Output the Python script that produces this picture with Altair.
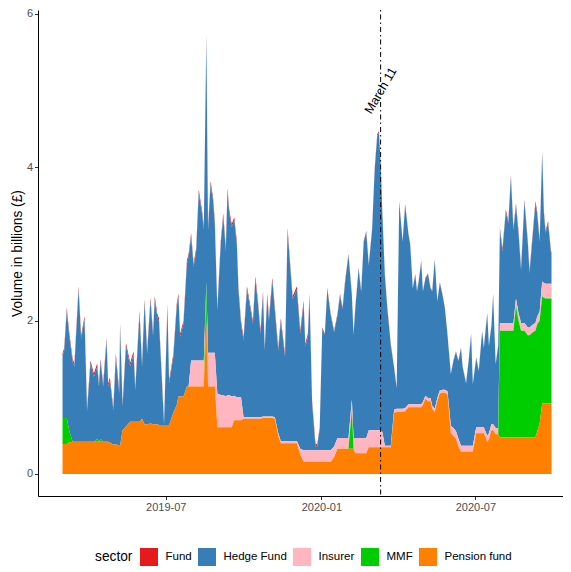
import altair as alt
import pandas as pd

FONT = "Liberation Sans"

# ---- data (day offsets from 2019-03-01) ----
start_date = "2019-03-01"
day = [0, 2, 5, 8, 12, 14, 19, 22, 26, 29,
       33, 37, 41, 43, 45, 48, 52, 54, 56, 60,
       63, 67, 68, 71, 75, 80, 84, 86, 91, 94,
       97, 100, 104, 107, 109, 112, 114, 120, 124, 126,
       131, 135, 137, 139, 143, 147, 149, 152, 155, 158,
       161, 165, 167, 170, 172, 175, 178, 180, 183, 187,
       190, 193, 195, 197, 200, 203, 206, 208, 211, 214,
       218, 221, 225, 228, 231, 234, 237, 239, 242, 244,
       248, 251, 255, 258, 263, 266, 270, 272, 277, 281,
       285, 287, 290, 292, 295, 299, 301, 304, 307, 310,
       313, 317, 321, 325, 328, 331, 334, 338, 342, 344,
       346, 350, 353, 356, 359, 362, 366, 369, 372, 374,
       376, 378, 381, 384, 388, 392, 395, 398, 402, 405,
       409, 411, 414, 417, 419, 421, 424, 426, 429, 432,
       435, 437, 440, 443, 446, 449, 452, 455, 457, 459,
       462, 465, 468, 471, 473, 477, 480, 483, 485, 489,
       492, 496, 498, 502, 504, 507, 509, 512, 515, 517,
       520, 524, 527, 530, 533, 536, 539, 542, 546, 550,
       552, 556, 559, 561, 564, 567, 569, 571, 574, 577,
       578]

# total stacked volume (top of the areas)
total = [1.57, 1.65, 2.17, 1.84, 1.50, 1.44, 2.45, 1.80, 2.06, 0.86,
         1.48, 1.31, 1.44, 1.18, 1.50, 1.18, 1.77, 1.18, 1.26, 0.87,
         1.57, 1.09, 1.96, 0.92, 1.71, 1.45, 1.60, 1.13, 2.13, 1.44,
         2.28, 1.61, 2.30, 1.84, 2.32, 2.09, 2.03, 0.66, 2.22, 1.22,
         1.57, 2.22, 2.35, 1.83, 2.00, 2.78, 2.87, 3.14, 2.74, 2.95,
         3.71, 3.43, 3.23, 5.73, 3.22, 3.82, 3.60, 3.30, 2.17, 3.04,
         3.40, 2.95, 3.73, 3.45, 3.26, 3.35, 3.04, 2.43, 2.00, 1.78,
         2.45, 2.26, 2.00, 2.58, 2.26, 1.87, 2.39, 1.65, 2.35, 2.04,
         2.56, 2.17, 1.65, 2.03, 1.57, 3.21, 2.61, 2.32, 2.45, 1.87,
         2.26, 1.70, 1.83, 2.35, 0.96, 0.40, 0.38, 0.61, 1.91, 1.83,
         2.43, 2.09, 1.87, 2.09, 2.35, 2.17, 2.52, 2.87, 2.35, 1.83,
         2.17, 2.69, 2.39, 3.04, 3.17, 2.74, 3.21, 3.99, 4.43, 4.47,
         4.08, 3.43, 2.61, 2.17, 1.70, 1.39, 1.13, 3.56, 3.04, 3.52,
         3.13, 3.00, 2.43, 2.61, 2.39, 2.52, 2.78, 2.39, 2.56, 2.62,
         2.43, 2.39, 2.80, 2.26, 2.50, 2.35, 2.17, 1.83, 1.57, 1.31,
         1.48, 1.60, 1.48, 1.65, 1.40, 1.19, 1.48, 1.83, 1.18, 1.52,
         1.35, 1.87, 1.65, 2.10, 1.68, 1.94, 2.35, 1.44, 1.68, 3.21,
         2.94, 3.45, 3.30, 3.90, 3.21, 3.53, 3.17, 2.69, 3.58, 3.04,
         2.65, 3.17, 3.56, 3.43, 3.06, 4.21, 3.43, 3.17, 3.30, 2.95,
         2.88]

pension = [0.39, 0.39, 0.39, 0.41, 0.42, 0.42, 0.42, 0.42, 0.42, 0.42,
           0.42, 0.42, 0.42, 0.42, 0.42, 0.42, 0.42, 0.42, 0.41, 0.38,
           0.39, 0.37, 0.37, 0.57, 0.62, 0.68, 0.68, 0.68, 0.68, 0.72,
           0.65, 0.65, 0.66, 0.65, 0.65, 0.65, 0.64, 0.64, 0.64, 0.64,
           0.80, 0.90, 1.01, 1.01, 1.01, 1.14, 1.14, 1.14, 1.14, 1.14,
           1.14, 1.14, 1.14, 2.00, 1.14, 1.14, 1.14, 1.14, 0.61, 0.61,
           0.61, 0.61, 0.61, 0.61, 0.61, 0.70, 0.70, 0.70, 0.70, 0.72,
           0.72, 0.72, 0.72, 0.72, 0.72, 0.72, 0.73, 0.73, 0.73, 0.73,
           0.73, 0.72, 0.50, 0.40, 0.40, 0.40, 0.40, 0.40, 0.40, 0.25,
           0.16, 0.16, 0.16, 0.16, 0.16, 0.16, 0.16, 0.16, 0.16, 0.16,
           0.16, 0.16, 0.22, 0.33, 0.33, 0.33, 0.33, 0.33, 0.33, 0.33,
           0.27, 0.27, 0.27, 0.27, 0.27, 0.35, 0.35, 0.35, 0.35, 0.35,
           0.35, 0.35, 0.35, 0.35, 0.35, 0.80, 0.81, 0.81, 0.81, 0.82,
           0.87, 0.87, 0.87, 0.87, 0.87, 0.87, 0.87, 0.90, 0.98, 0.95,
           0.95, 0.85, 0.81, 0.95, 1.05, 1.06, 1.06, 1.04, 0.80, 0.53,
           0.50, 0.46, 0.36, 0.29, 0.29, 0.29, 0.29, 0.29, 0.29, 0.53,
           0.53, 0.53, 0.53, 0.42, 0.45, 0.57, 0.57, 0.52, 0.52, 0.48,
           0.48, 0.48, 0.48, 0.48, 0.48, 0.48, 0.48, 0.48, 0.48, 0.48,
           0.48, 0.48, 0.48, 0.55, 0.66, 0.92, 0.92, 0.92, 0.92, 0.92,
           0.92]

mmf = [0.34, 0.34, 0.34, 0.15, 0, 0, 0, 0, 0, 0,
       0, 0, 0.04, 0, 0.04, 0, 0, 0, 0, 0,
       0, 0, 0, 0, 0, 0, 0, 0, 0, 0,
       0, 0, 0, 0, 0, 0, 0, 0, 0, 0,
       0, 0, 0, 0, 0, 0, 0, 0, 0, 0,
       0, 0, 0, 0.50, 0, 0, 0, 0, 0, 0,
       0, 0, 0, 0, 0, 0, 0, 0, 0, 0,
       0, 0, 0, 0, 0, 0, 0, 0, 0, 0,
       0, 0, 0, 0, 0, 0, 0, 0, 0, 0,
       0, 0, 0, 0, 0, 0, 0, 0, 0, 0,
       0, 0, 0, 0, 0, 0, 0, 0, 0.50, 0,
       0, 0, 0, 0, 0, 0, 0, 0, 0, 0,
       0, 0, 0, 0, 0, 0, 0, 0, 0, 0,
       0, 0, 0, 0, 0, 0, 0, 0, 0, 0,
       0, 0, 0, 0, 0, 0, 0, 0, 0, 0,
       0, 0, 0, 0, 0, 0, 0, 0, 0, 0,
       0, 0, 0, 0, 0, 0, 0, 0, 0, 1.39,
       1.39, 1.39, 1.39, 1.39, 1.39, 1.71, 1.52, 1.39, 1.39, 1.33,
       1.33, 1.37, 1.39, 1.40, 1.34, 1.40, 1.38, 1.37, 1.37, 1.37,
       1.37]

insurer = [0, 0, 0, 0, 0, 0, 0, 0, 0, 0,
           0, 0, 0, 0, 0, 0, 0, 0, 0, 0,
           0, 0, 0, 0, 0, 0, 0, 0, 0, 0,
           0, 0, 0, 0, 0, 0, 0, 0, 0, 0,
           0, 0, 0, 0, 0, 0, 0, 0.34, 0.34, 0.34,
           0.34, 0.34, 0.34, 0, 0.44, 0.44, 0.44, 0.44, 0.44, 0.42,
           0.42, 0.40, 0.42, 0.42, 0.40, 0.32, 0.30, 0.30, 0.30, 0.02,
           0.02, 0.02, 0.02, 0.02, 0.02, 0.02, 0.02, 0.02, 0.02, 0.02,
           0.02, 0.02, 0.03, 0.03, 0.03, 0.03, 0.03, 0.03, 0.03, 0.08,
           0.15, 0.15, 0.15, 0.15, 0.15, 0.15, 0.15, 0.15, 0.15, 0.15,
           0.15, 0.15, 0.14, 0.14, 0.14, 0.14, 0.14, 0.14, 0.14, 0.14,
           0.20, 0.20, 0.20, 0.20, 0.20, 0.22, 0.22, 0.22, 0.22, 0.22,
           0.22, 0.20, 0.02, 0.02, 0.02, 0.04, 0.04, 0.04, 0.04, 0.04,
           0.04, 0.04, 0.04, 0.04, 0.04, 0.04, 0.04, 0.04, 0.04, 0.04,
           0.04, 0.04, 0.04, 0.04, 0.04, 0.04, 0.04, 0.04, 0.06, 0.10,
           0.10, 0.10, 0.10, 0.08, 0.08, 0.08, 0.08, 0.08, 0.08, 0.08,
           0.08, 0.08, 0.08, 0.08, 0.08, 0.08, 0.08, 0.08, 0.08, 0.10,
           0.10, 0.10, 0.10, 0.10, 0.10, 0.10, 0.10, 0.10, 0.10, 0.10,
           0.10, 0.10, 0.10, 0.10, 0.12, 0.19, 0.19, 0.19, 0.19, 0.19,
           0.19]

# thin "Fund" layer on top, read per stretch of the series
fund = [0.04] * 96 + [0.02] * 29 + [0.01] * 44 + [0.03] * 22

sectors = ["Fund", "Hedge Fund", "Insurer", "MMF", "Pension fund"]
colors = ["#E41A1C", "#377EB8", "#FFB6C1", "#00CD00", "#FF7F00"]
stack_rank = {"Pension fund": 0, "MMF": 1, "Insurer": 2, "Hedge Fund": 3, "Fund": 4}
x_tick_dates = ["2019-07-01", "2020-01-01", "2020-07-01"]
y_ticks = [0, 2, 4, 6]

n = len(day)
assert all(len(a) == n for a in (total, pension, mmf, insurer, fund))

# hedge fund = what is left between the other layers and the top
hedge = [round(max(t - p - m - i - f, 0.0), 3)
         for t, p, m, i, f in zip(total, pension, mmf, insurer, fund)]

series = {"Fund": fund, "Hedge Fund": hedge, "Insurer": insurer,
          "MMF": mmf, "Pension fund": pension}

t0 = pd.Timestamp(start_date)
dates = [(t0 + pd.Timedelta(days=d)).strftime("%Y-%m-%d") for d in day]
rows = []
for s, vals in series.items():
    for dt, v in zip(dates, vals):
        rows.append({"date": dt, "sector": s, "value": v, "rank": stack_rank[s]})
df = pd.DataFrame(rows)

annot = pd.DataFrame({"date": ["2020-03-11"], "value": [5.0], "label": ["March 11"]})


def ms(s):
    return int(pd.Timestamp(s, tz="UTC").timestamp() * 1000)


W, H = 525, 486
x_scale = alt.Scale(type="utc", domain=[ms("2019-01-31"), ms("2020-10-12T14:00:00")], nice=False)
y_scale = alt.Scale(domain=[-0.287, 6.052], nice=False, zero=False)

x_axis = alt.Axis(values=[ms(d) for d in x_tick_dates],
                  labelExpr="utcFormat(datum.value, '%Y-%m')", title=None)
y_axis = alt.Axis(values=y_ticks, format="d", title="Volume in billions (£)",
                  titleX=-21, titleY=H / 2, titleAngle=270,
                  titleAlign="center", titleBaseline="middle")

area = alt.Chart(df).mark_area(interpolate="linear", clip=True).encode(
    x=alt.X("date:T", scale=x_scale, axis=x_axis),
    y=alt.Y("value:Q", stack="zero", scale=y_scale, axis=y_axis),
    color=alt.Color("sector:N", scale=alt.Scale(domain=sectors, range=colors),
                    legend=alt.Legend(orient="none", legendX=57, legendY=538,
                                      direction="horizontal", title="sector",
                                      titleOrient="left", titleFontSize=13.75,
                                      titleFontWeight="normal", titleColor="black",
                                      titleFont=FONT, titlePadding=7,
                                      titleAnchor="middle", titleBaseline="middle",
                                      labelFontSize=11.5, labelFont=FONT, labelColor="black",
                                      symbolType="square", symbolSize=324,
                                      symbolStrokeWidth=0, symbolOpacity=1,
                                      columnPadding=6, labelOffset=7.5, padding=0)),
    order=alt.Order("rank:Q", sort="ascending"),
)

rule = alt.Chart(annot).mark_rule(color="black", strokeDash=[1.5, 3, 5, 3], strokeWidth=1).encode(
    x=alt.X("date:T", scale=x_scale, axis=x_axis)
)

label = alt.Chart(annot).mark_text(angle=300, fontSize=12.5, font=FONT, color="black",
                                   align="center", baseline="middle").encode(
    x=alt.X("date:T", scale=x_scale, axis=x_axis),
    y=alt.Y("value:Q", scale=y_scale, axis=y_axis),
    text="label:N",
)

chart = alt.layer(area, rule, label).properties(
    width=W, height=H,
    padding={"left": 30, "top": 2, "right": 0, "bottom": 70},
    autosize=alt.AutoSizeParams(type="none"),
).configure_view(stroke=None).configure_axis(
    grid=False,
    domainColor="black", domainWidth=1,
    tickColor="#333333", tickWidth=1, tickSize=3.5,
    labelColor="#4D4D4D", labelFontSize=11, labelFont=FONT, labelPadding=2,
    titleColor="black", titleFontSize=13.75, titleFont=FONT, titleFontWeight="normal",
)

chart.save("out.html", embed_options={"renderer": "svg", "actions": False})
